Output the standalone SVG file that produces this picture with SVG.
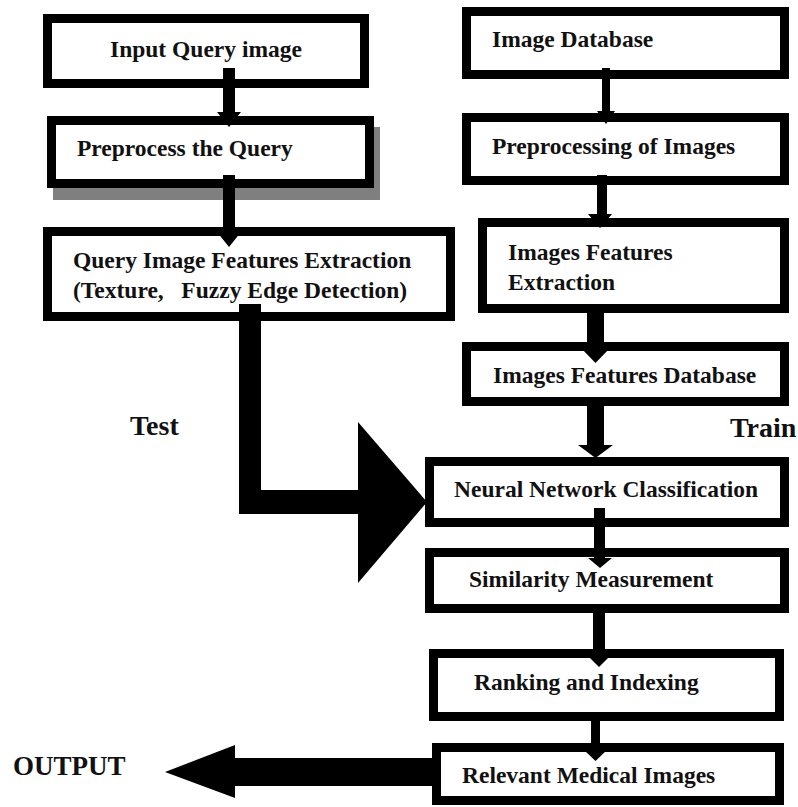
<svg xmlns="http://www.w3.org/2000/svg" width="798" height="807" viewBox="0 0 798 807">
<style>
.box{fill:#fff;stroke:#000;stroke-width:9}
.shadow{fill:#7f7f7f}
.t{font-family:"Liberation Serif","Times New Roman",serif;font-weight:bold;font-size:23.5px;fill:#111;white-space:pre}
.lbl{font-family:"Liberation Serif","Times New Roman",serif;font-weight:bold;font-size:28px;fill:#111}
.arr{fill:#000}
</style>
<rect width="798" height="807" fill="#fff"/>
<g id="input-query">
<rect class="box" x="47.5" y="18.5" width="317" height="65"/>
<text class="t" x="110" y="57">Input Query image</text>
</g>
<g id="preprocess-query">
<rect class="shadow" x="53" y="127" width="327" height="73"/>
<rect class="box" x="51.5" y="120.5" width="318" height="63"/>
<text class="t" x="77" y="156">Preprocess the Query</text>
</g>
<g id="query-features">
<rect class="box" x="47.5" y="231.5" width="403" height="85"/>
<text class="t" x="73" y="268">Query Image Features Extraction</text>
<text class="t" x="73" y="298">(Texture,   Fuzzy Edge Detection)</text>
</g>
<g id="image-database">
<rect class="box" x="466.5" y="11.5" width="318" height="63"/>
<text class="t" x="492" y="47">Image Database</text>
</g>
<g id="preprocessing-images">
<rect class="box" x="466.5" y="117.5" width="318" height="63"/>
<text class="t" x="492" y="154">Preprocessing of Images</text>
</g>
<g id="images-features-extraction">
<rect class="box" x="482.5" y="222.5" width="302" height="86"/>
<text class="t" x="508" y="260">Images Features</text>
<text class="t" x="508" y="290">Extraction</text>
</g>
<g id="images-features-database">
<rect class="box" x="466.5" y="346.5" width="318" height="55"/>
<text class="t" x="493" y="383">Images Features Database</text>
</g>
<g id="neural-network">
<rect class="box" x="429.5" y="461.5" width="355" height="61"/>
<text class="t" x="454" y="497">Neural Network Classification</text>
</g>
<g id="similarity">
<rect class="box" x="429.5" y="552.5" width="355" height="56"/>
<text class="t" x="469" y="587">Similarity Measurement</text>
</g>
<g id="ranking">
<rect class="box" x="433.5" y="653.5" width="346" height="63"/>
<text class="t" x="474" y="690">Ranking and Indexing</text>
</g>
<g id="relevant-images">
<rect class="box" x="436.5" y="747.5" width="343" height="53"/>
<text class="t" x="462" y="783">Relevant Medical Images</text>
</g>
<g id="labels">
<text class="lbl" x="130" y="435">Test</text>
<text class="lbl" x="730" y="437">Train</text>
<text class="lbl" x="13" y="775" style="font-size:27px">OUTPUT</text>
</g>
<g id="connectors">
<polygon class="arr" points="223,68 235,68 235,112 241,112 229,127 217,112 223,112"/>
<polygon class="arr" points="223,175 235,175 235,232 241,232 229,247 217,232 223,232"/>
<polygon class="arr" points="239,304 261,304 261,490 358,490 358,422 427,502 358,583 358,514 239,514"/>
<polygon class="arr" points="602,68 610,68 610,111 615,111 606,124 597,111 602,111"/>
<polygon class="arr" points="597,175 607,175 607,214 612,214 600,228 588,214 597,214"/>
<polygon class="arr" points="587,304 604,304 604,347 611,347 595.5,363 580,347 587,347"/>
<polygon class="arr" points="587,397 604,397 604,445 613,445 595.5,458 578,445 587,445"/>
<polygon class="arr" points="594,508 605,508 605,558 612,558 600,568 588,558 594,558"/>
<polygon class="arr" points="593,604 605,604 605,655 611,655 599,667 587,655 593,655"/>
<polygon class="arr" points="591,712 600,712 600,750 607,750 595.5,761 584,750 591,750"/>
<polygon class="arr" points="432,758 235,758 235,745 165,772 235,798 235,786 432,786"/>
</g>
</svg>
